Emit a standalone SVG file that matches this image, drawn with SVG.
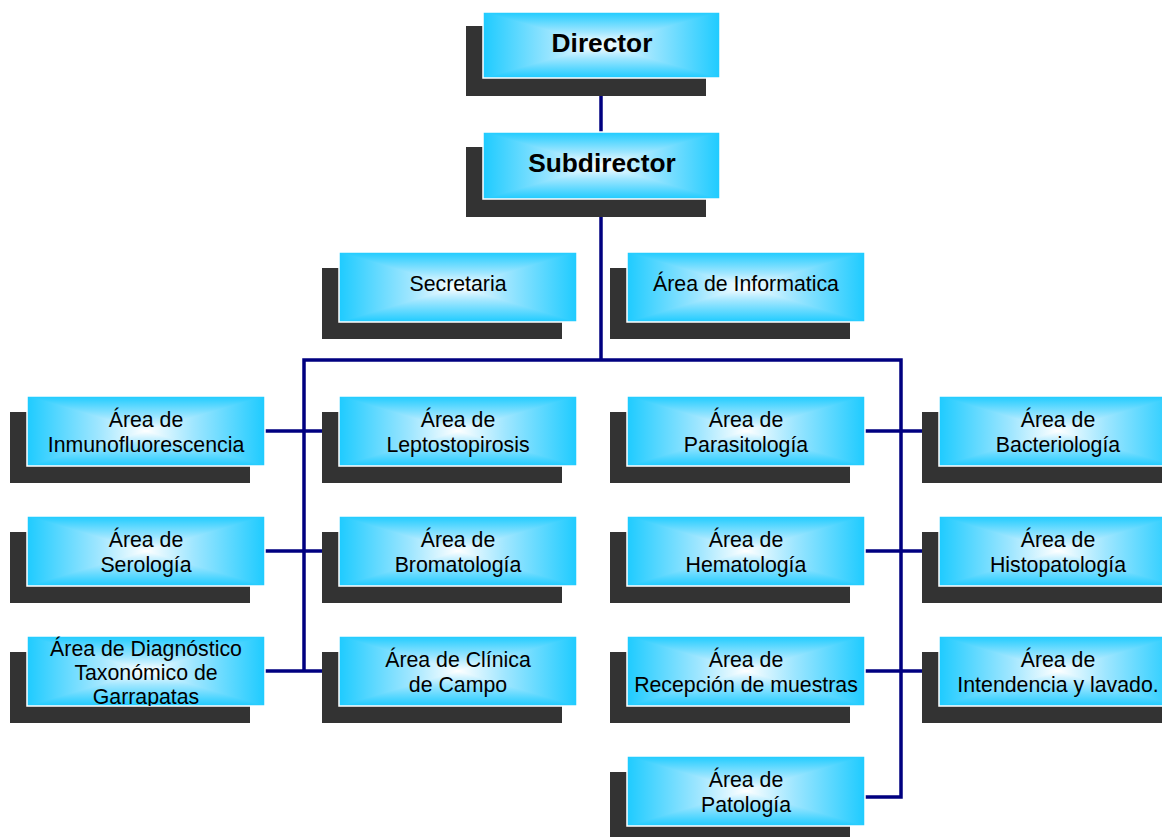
<svg xmlns="http://www.w3.org/2000/svg" width="1162" height="837" viewBox="0 0 1162 837">
<style>
.sh{fill:#333333}
.fh{fill:url(#gh)}
.fv{fill:url(#gv);mix-blend-mode:darken}
.bx{isolation:isolate}
.bd{fill:none;stroke:#ffffff;stroke-width:1.5}
.t{font-family:"Liberation Sans",Arial,sans-serif;font-size:21.3px;fill:#000;text-anchor:middle}
.tb{font-family:"Liberation Sans",Arial,sans-serif;font-size:26.3px;font-weight:bold;fill:#000;text-anchor:middle}
.c{stroke:#000080;stroke-width:3.5;fill:none;stroke-linejoin:miter}
</style>
<defs>
<linearGradient id="gh" x1="0" y1="0" x2="1" y2="0">
<stop offset="0" stop-color="#1ecbff"/><stop offset="0.3" stop-color="#9fe6ff"/><stop offset="0.5" stop-color="#ffffff"/><stop offset="0.7" stop-color="#9fe6ff"/><stop offset="1" stop-color="#1ecbff"/>
</linearGradient>
<linearGradient id="gv" x1="0" y1="0" x2="0" y2="1">
<stop offset="0" stop-color="#1ecbff"/><stop offset="0.3" stop-color="#9fe6ff"/><stop offset="0.5" stop-color="#ffffff"/><stop offset="0.7" stop-color="#9fe6ff"/><stop offset="1" stop-color="#1ecbff"/>
</linearGradient>
<clipPath id="clipG"><rect x="27" y="636" width="238" height="70"/></clipPath>
</defs>
<rect width="1162" height="837" fill="#ffffff"/>

<g id="connectors">
<path class="c" d="M601,78 V132"/>
<path class="c" d="M601,199 V360"/>
<path class="c" d="M304,671 V360 H901 V797 H865"/>
<path class="c" d="M265,431 H339"/>
<path class="c" d="M265,551 H339"/>
<path class="c" d="M265,671 H339"/>
<path class="c" d="M865,431 H939"/>
<path class="c" d="M865,551 H939"/>
<path class="c" d="M865,671 H939"/>
</g>

<g id="n-director"><rect class="sh" x="466" y="26" width="240" height="70"/><g class="bx"><rect class="fh" x="483" y="12" width="237" height="66"/><rect class="fv" x="483" y="12" width="237" height="66"/></g><rect class="bd" x="483" y="12" width="237" height="66"/><text class="tb" x="602" y="52">Director</text></g>

<g id="n-subdirector"><rect class="sh" x="466" y="147" width="240" height="70"/><g class="bx"><rect class="fh" x="483" y="132" width="237" height="67"/><rect class="fv" x="483" y="132" width="237" height="67"/></g><rect class="bd" x="483" y="132" width="237" height="67"/><text class="tb" x="602" y="172">Subdirector</text></g>

<g id="n-secretaria"><rect class="sh" x="322" y="268" width="240" height="71"/><g class="bx"><rect class="fh" x="339" y="252" width="238" height="70"/><rect class="fv" x="339" y="252" width="238" height="70"/></g><rect class="bd" x="339" y="252" width="238" height="70"/><text class="t" x="458" y="291">Secretaria</text></g>

<g id="n-informatica"><rect class="sh" x="610" y="268" width="240" height="71"/><g class="bx"><rect class="fh" x="627" y="252" width="238" height="70"/><rect class="fv" x="627" y="252" width="238" height="70"/></g><rect class="bd" x="627" y="252" width="238" height="70"/><text class="t" x="746" y="291">Área de Informatica</text></g>

<g id="n-inmuno"><rect class="sh" x="10" y="412" width="240" height="71"/><g class="bx"><rect class="fh" x="27" y="396" width="238" height="70"/><rect class="fv" x="27" y="396" width="238" height="70"/></g><rect class="bd" x="27" y="396" width="238" height="70"/><text class="t" x="146" y="426.5">Área de</text><text class="t" x="146" y="452">Inmunofluorescencia</text></g>

<g id="n-lepto"><rect class="sh" x="322" y="412" width="240" height="71"/><g class="bx"><rect class="fh" x="339" y="396" width="238" height="70"/><rect class="fv" x="339" y="396" width="238" height="70"/></g><rect class="bd" x="339" y="396" width="238" height="70"/><text class="t" x="458" y="426.5">Área de</text><text class="t" x="458" y="452">Leptostopirosis</text></g>

<g id="n-parasito"><rect class="sh" x="610" y="412" width="240" height="71"/><g class="bx"><rect class="fh" x="627" y="396" width="238" height="70"/><rect class="fv" x="627" y="396" width="238" height="70"/></g><rect class="bd" x="627" y="396" width="238" height="70"/><text class="t" x="746" y="426.5">Área de</text><text class="t" x="746" y="452">Parasitología</text></g>

<g id="n-bacterio"><rect class="sh" x="922" y="412" width="240" height="71"/><g class="bx"><rect class="fh" x="939" y="396" width="238" height="70"/><rect class="fv" x="939" y="396" width="238" height="70"/></g><rect class="bd" x="939" y="396" width="238" height="70"/><text class="t" x="1058" y="426.5">Área de</text><text class="t" x="1058" y="452">Bacteriología</text></g>

<g id="n-serologia"><rect class="sh" x="10" y="532" width="240" height="71"/><g class="bx"><rect class="fh" x="27" y="516" width="238" height="70"/><rect class="fv" x="27" y="516" width="238" height="70"/></g><rect class="bd" x="27" y="516" width="238" height="70"/><text class="t" x="146" y="546.5">Área de</text><text class="t" x="146" y="572">Serología</text></g>

<g id="n-bromato"><rect class="sh" x="322" y="532" width="240" height="71"/><g class="bx"><rect class="fh" x="339" y="516" width="238" height="70"/><rect class="fv" x="339" y="516" width="238" height="70"/></g><rect class="bd" x="339" y="516" width="238" height="70"/><text class="t" x="458" y="546.5">Área de</text><text class="t" x="458" y="572">Bromatología</text></g>

<g id="n-hemato"><rect class="sh" x="610" y="532" width="240" height="71"/><g class="bx"><rect class="fh" x="627" y="516" width="238" height="70"/><rect class="fv" x="627" y="516" width="238" height="70"/></g><rect class="bd" x="627" y="516" width="238" height="70"/><text class="t" x="746" y="546.5">Área de</text><text class="t" x="746" y="572">Hematología</text></g>

<g id="n-histo"><rect class="sh" x="922" y="532" width="240" height="71"/><g class="bx"><rect class="fh" x="939" y="516" width="238" height="70"/><rect class="fv" x="939" y="516" width="238" height="70"/></g><rect class="bd" x="939" y="516" width="238" height="70"/><text class="t" x="1058" y="546.5">Área de</text><text class="t" x="1058" y="572">Histopatología</text></g>

<g id="n-garrapatas"><rect class="sh" x="10" y="652" width="240" height="71"/><g class="bx"><rect class="fh" x="27" y="636" width="238" height="70"/><rect class="fv" x="27" y="636" width="238" height="70"/></g><rect class="bd" x="27" y="636" width="238" height="70"/><g clip-path="url(#clipG)"><text class="t" x="146" y="656">Área de Diagnóstico</text><text class="t" x="146" y="680">Taxonómico de</text><text class="t" x="146" y="704">Garrapatas</text></g></g>

<g id="n-clinica"><rect class="sh" x="322" y="652" width="240" height="71"/><g class="bx"><rect class="fh" x="339" y="636" width="238" height="70"/><rect class="fv" x="339" y="636" width="238" height="70"/></g><rect class="bd" x="339" y="636" width="238" height="70"/><text class="t" x="458" y="666.5">Área de Clínica</text><text class="t" x="458" y="692">de Campo</text></g>

<g id="n-recepcion"><rect class="sh" x="610" y="652" width="240" height="71"/><g class="bx"><rect class="fh" x="627" y="636" width="238" height="70"/><rect class="fv" x="627" y="636" width="238" height="70"/></g><rect class="bd" x="627" y="636" width="238" height="70"/><text class="t" x="746" y="666.5">Área de</text><text class="t" x="746" y="692">Recepción de muestras</text></g>

<g id="n-intendencia"><rect class="sh" x="922" y="652" width="240" height="71"/><g class="bx"><rect class="fh" x="939" y="636" width="238" height="70"/><rect class="fv" x="939" y="636" width="238" height="70"/></g><rect class="bd" x="939" y="636" width="238" height="70"/><text class="t" x="1058" y="666.5">Área de</text><text class="t" x="1058" y="692">Intendencia y lavado.</text></g>

<g id="n-patologia"><rect class="sh" x="610" y="772" width="240" height="71"/><g class="bx"><rect class="fh" x="627" y="756" width="238" height="70"/><rect class="fv" x="627" y="756" width="238" height="70"/></g><rect class="bd" x="627" y="756" width="238" height="70"/><text class="t" x="746" y="786.5">Área de</text><text class="t" x="746" y="812">Patología</text></g>
</svg>
